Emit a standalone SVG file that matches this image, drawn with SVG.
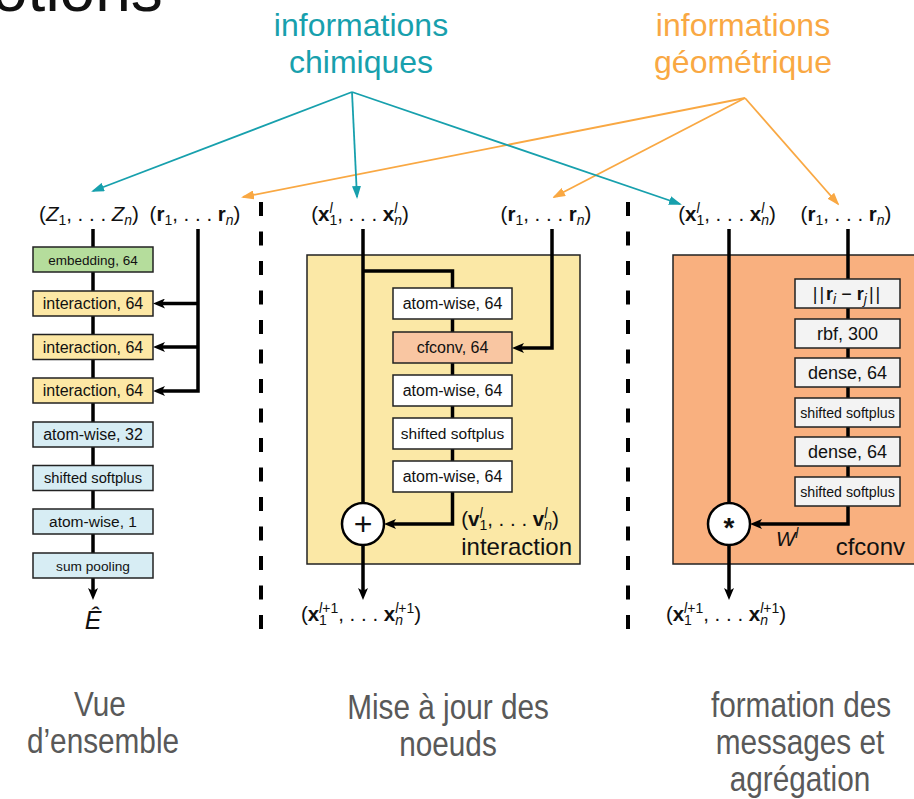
<svg xmlns="http://www.w3.org/2000/svg" width="914" height="799" viewBox="0 0 914 799">
  <style>
    text { font-family: "Liberation Sans", Arial, sans-serif; fill: #111; }
    .m { font-size: 20.5px; }
    .s { font-size: 14px; }
    .i { font-style: italic; }
    .b { font-weight: bold; }
    .box { stroke: #222; stroke-width: 1.5; }
    .bl { font-size: 16px; text-anchor: middle; }
    .wire { fill: none; stroke: #000; stroke-width: 3.5; }
    .teal { fill: none; stroke: #17a0ad; stroke-width: 1.8; }
    .orng { fill: none; stroke: #f9a843; stroke-width: 1.8; }
    .sep { stroke: #000; stroke-width: 4; stroke-dasharray: 14 15.5; }
    .cap { font-size: 35px; text-anchor: middle; fill: #595959; }
  </style>
  <defs>
    <marker id="ah" viewBox="0 0 12 10" refX="6" refY="5" markerWidth="12" markerHeight="10" markerUnits="userSpaceOnUse" orient="auto">
      <path d="M0,0 L12,5 L0,10 L3,5 z" fill="#000"/>
    </marker>
    <marker id="at" viewBox="0 0 13 9" refX="11" refY="4.5" markerWidth="13" markerHeight="9" markerUnits="userSpaceOnUse" orient="auto">
      <path d="M0,0 L13,4.5 L0,9 z" fill="#17a0ad"/>
    </marker>
    <marker id="ao" viewBox="0 0 13 9" refX="11" refY="4.5" markerWidth="13" markerHeight="9" markerUnits="userSpaceOnUse" orient="auto">
      <path d="M0,0 L13,4.5 L0,9 z" fill="#f9a843"/>
    </marker>
  </defs>

  <!-- heading, partly outside the top edge -->
  <text x="-8" y="11" font-size="64">otions</text>

  <!-- source labels -->
  <g id="chem-info">
    <text x="361" y="36" font-size="32" text-anchor="middle" style="fill:#17a0ad">informations</text>
    <text x="361" y="73" font-size="32" text-anchor="middle" style="fill:#17a0ad">chimiques</text>
  </g>
  <g id="geom-info">
    <text x="743" y="36" font-size="32" text-anchor="middle" style="fill:#f9a843">informations</text>
    <text x="743" y="73" font-size="32" text-anchor="middle" style="fill:#f9a843">géométrique</text>
  </g>

  <!-- column separators -->
  <line class="sep" x1="261" y1="202" x2="261" y2="632"/>
  <line class="sep" x1="628" y1="202" x2="628" y2="632"/>

  <!-- containers -->
  <g id="interaction-block">
    <rect x="307" y="255" width="273" height="309" fill="#fbe8a6" stroke="#222" stroke-width="1.5"/>
  </g>
  <g id="cfconv-block">
    <rect x="673" y="255" width="260" height="309" fill="#f9b07f" stroke="#222" stroke-width="1.5"/>
  </g>

  <!-- connectors -->
  <g id="connectors">
    <!-- overview column -->
    <path class="wire" d="M93,229 V594" marker-end="url(#ah)"/>
    <path class="wire" d="M198,229 V391 H159" marker-end="url(#ah)"/>
    <path class="wire" d="M198,303.5 H159" marker-end="url(#ah)"/>
    <path class="wire" d="M198,347 H159" marker-end="url(#ah)"/>
    <!-- interaction column -->
    <path class="wire" d="M363,229 V503"/>
    <path class="wire" d="M363,271 H452.5 V288"/>
    <path class="wire" d="M452.5,319 V524 H390" marker-end="url(#ah)"/>
    <path class="wire" d="M552,229 V348 H518" marker-end="url(#ah)"/>
    <path class="wire" d="M363,545 V594" marker-end="url(#ah)"/>
    <!-- cfconv column -->
    <path class="wire" d="M729,229 V503"/>
    <path class="wire" d="M848,229 V524 H756" marker-end="url(#ah)"/>
    <path class="wire" d="M729,545 V594" marker-end="url(#ah)"/>
    <!-- information flow -->
    <path class="orng" d="M745,98 L243,197" marker-end="url(#ao)"/>
    <path class="orng" d="M745,98 L554,197" marker-end="url(#ao)"/>
    <path class="orng" d="M745,98 L838,204" marker-end="url(#ao)"/>
    <path class="teal" d="M352,92 L93,191" marker-end="url(#at)"/>
    <path class="teal" d="M352,92 L357,197" marker-end="url(#at)"/>
    <path class="teal" d="M352,92 L680,204" marker-end="url(#at)"/>
  </g>

  <!-- overview column -->
  <g id="in-Z"><text class="m" x="89" y="221" text-anchor="middle">(<tspan class="i">Z</tspan><tspan class="s" dy="4">1</tspan><tspan dy="-4">, . . . </tspan><tspan class="i">Z</tspan><tspan class="s i" dy="4">n</tspan><tspan dy="-4">)</tspan></text></g>
  <g id="in-r1"><text class="m" x="195" y="221" text-anchor="middle">(<tspan class="b">r</tspan><tspan class="s" dy="4">1</tspan><tspan dy="-4">, . . . </tspan><tspan class="b">r</tspan><tspan class="s i" dy="4">n</tspan><tspan dy="-4">)</tspan></text></g>
  <g id="embedding"><rect class="box" x="33" y="247" width="120" height="25" fill="#b5dd9c"/><text class="bl" x="93" y="264.5" style="font-size:13.5px">embedding, 64</text></g>
  <g id="interaction-1"><rect class="box" x="33" y="291" width="120" height="25" fill="#fde8a5"/><text class="bl" x="93" y="309">interaction, 64</text></g>
  <g id="interaction-2"><rect class="box" x="33" y="334.5" width="120" height="25" fill="#fde8a5"/><text class="bl" x="93" y="352.5">interaction, 64</text></g>
  <g id="interaction-3"><rect class="box" x="33" y="378" width="120" height="25" fill="#fde8a5"/><text class="bl" x="93" y="396">interaction, 64</text></g>
  <g id="atomwise-32"><rect class="box" x="33" y="422" width="120" height="25" fill="#d7edf4"/><text class="bl" x="93" y="440">atom-wise, 32</text></g>
  <g id="ssp-1"><rect class="box" x="33" y="465.5" width="120" height="25" fill="#d7edf4"/><text class="bl" x="93" y="483" style="font-size:14.7px">shifted softplus</text></g>
  <g id="atomwise-1"><rect class="box" x="33" y="509" width="120" height="25" fill="#d7edf4"/><text class="bl" x="93" y="527" style="font-size:15.5px">atom-wise, 1</text></g>
  <g id="sum-pooling"><rect class="box" x="33" y="553" width="120" height="25" fill="#d7edf4"/><text class="bl" x="93" y="570.5" style="font-size:13.7px">sum pooling</text></g>
  <g id="out-E"><text x="93" y="629" font-size="25" font-style="italic" text-anchor="middle">Ê</text></g>

  <!-- interaction column -->
  <g id="in-x-mid"><text class="m" x="360" y="221" text-anchor="middle">(<tspan class="b">x</tspan><tspan class="s i" dy="-8">l</tspan><tspan class="s" dx="-3.1" dy="12">1</tspan><tspan dy="-4">, . . . </tspan><tspan class="b">x</tspan><tspan class="s i" dy="-8">l</tspan><tspan class="s i" dx="-3.1" dy="12">n</tspan><tspan dy="-4">)</tspan></text></g>
  <g id="in-r-mid"><text class="m" x="546" y="221" text-anchor="middle">(<tspan class="b">r</tspan><tspan class="s" dy="4">1</tspan><tspan dy="-4">, . . . </tspan><tspan class="b">r</tspan><tspan class="s i" dy="4">n</tspan><tspan dy="-4">)</tspan></text></g>
  <g id="aw-a"><rect class="box" x="393" y="288" width="119" height="31" fill="#fff"/><text class="bl" x="452.5" y="309">atom-wise, 64</text></g>
  <g id="cfconv-64"><rect class="box" x="393" y="332" width="119" height="31" fill="#f9c6a2"/><text class="bl" x="452.5" y="353">cfconv, 64</text></g>
  <g id="aw-b"><rect class="box" x="393" y="375" width="119" height="31" fill="#fff"/><text class="bl" x="452.5" y="396">atom-wise, 64</text></g>
  <g id="ssp-2"><rect class="box" x="393" y="418" width="119" height="31" fill="#fff"/><text class="bl" x="452.5" y="439" style="font-size:15.5px">shifted softplus</text></g>
  <g id="aw-c"><rect class="box" x="393" y="461" width="119" height="31" fill="#fff"/><text class="bl" x="452.5" y="482">atom-wise, 64</text></g>
  <g id="sum-node"><circle cx="363" cy="524" r="21" fill="#fff" stroke="#000" stroke-width="2.5"/><text x="363" y="535" font-size="32" text-anchor="middle">+</text></g>
  <g id="v-label"><text class="m" x="510" y="526" text-anchor="middle">(<tspan class="b">v</tspan><tspan class="s i" dy="-8">l</tspan><tspan class="s" dx="-3.1" dy="12">1</tspan><tspan dy="-4">, . . . </tspan><tspan class="b">v</tspan><tspan class="s i" dy="-8">l</tspan><tspan class="s i" dx="-3.1" dy="12">n</tspan><tspan dy="-4">)</tspan></text></g>
  <g id="interaction-title"><text x="572" y="555" font-size="24" text-anchor="end">interaction</text></g>
  <g id="out-x-mid"><text class="m" x="361" y="621" text-anchor="middle">(<tspan class="b">x</tspan><tspan class="s" dy="4">1</tspan><tspan class="s" dx="-7.8" dy="-12"><tspan class="i">l</tspan>+1</tspan><tspan dy="8">, . . . </tspan><tspan class="b">x</tspan><tspan class="s i" dy="4">n</tspan><tspan class="s" dx="-7.8" dy="-12"><tspan class="i">l</tspan>+1</tspan><tspan dy="8">)</tspan></text></g>

  <!-- cfconv column -->
  <g id="in-x-right"><text class="m" x="727" y="221" text-anchor="middle">(<tspan class="b">x</tspan><tspan class="s i" dy="-8">l</tspan><tspan class="s" dx="-3.1" dy="12">1</tspan><tspan dy="-4">, . . . </tspan><tspan class="b">x</tspan><tspan class="s i" dy="-8">l</tspan><tspan class="s i" dx="-3.1" dy="12">n</tspan><tspan dy="-4">)</tspan></text></g>
  <g id="in-r-right"><text class="m" x="846" y="221" text-anchor="middle">(<tspan class="b">r</tspan><tspan class="s" dy="4">1</tspan><tspan dy="-4">, . . . </tspan><tspan class="b">r</tspan><tspan class="s i" dy="4">n</tspan><tspan dy="-4">)</tspan></text></g>
  <g id="dist"><rect class="box" x="795" y="279" width="105" height="29" fill="#f3f3f3"/><text class="bl" x="847.5" y="300" style="font-size:18px"><tspan letter-spacing="2">||</tspan><tspan class="b">r</tspan><tspan class="s i" dy="4">i</tspan><tspan dy="-4"> − </tspan><tspan class="b">r</tspan><tspan class="s i" dy="4">j</tspan><tspan dy="-4" dx="2" letter-spacing="2">||</tspan></text></g>
  <g id="rbf"><rect class="box" x="795" y="319" width="105" height="29" fill="#f3f3f3"/><text class="bl" x="847.5" y="340" style="font-size:18px">rbf, 300</text></g>
  <g id="dense-a"><rect class="box" x="795" y="358" width="105" height="29" fill="#f3f3f3"/><text class="bl" x="847.5" y="379" style="font-size:18px">dense, 64</text></g>
  <g id="ssp-3"><rect class="box" x="795" y="398" width="105" height="29" fill="#f3f3f3"/><text class="bl" x="847.5" y="417.5" style="font-size:14.2px">shifted softplus</text></g>
  <g id="dense-b"><rect class="box" x="795" y="437" width="105" height="29" fill="#f3f3f3"/><text class="bl" x="847.5" y="458" style="font-size:18px">dense, 64</text></g>
  <g id="ssp-4"><rect class="box" x="795" y="477" width="105" height="29" fill="#f3f3f3"/><text class="bl" x="847.5" y="496.5" style="font-size:14.2px">shifted softplus</text></g>
  <g id="conv-node"><circle cx="729" cy="524" r="21" fill="#fff" stroke="#000" stroke-width="2.5"/><text x="729" y="537" font-size="28" font-weight="bold" text-anchor="middle">*</text></g>
  <g id="w-label"><text class="m" x="776" y="546"><tspan class="i">W</tspan><tspan class="s i" dy="-8">l</tspan></text></g>
  <g id="cfconv-title"><text x="905" y="555" font-size="24" text-anchor="end">cfconv</text></g>
  <g id="out-x-right"><text class="m" x="726" y="621" text-anchor="middle">(<tspan class="b">x</tspan><tspan class="s" dy="4">1</tspan><tspan class="s" dx="-7.8" dy="-12"><tspan class="i">l</tspan>+1</tspan><tspan dy="8">, . . . </tspan><tspan class="b">x</tspan><tspan class="s i" dy="4">n</tspan><tspan class="s" dx="-7.8" dy="-12"><tspan class="i">l</tspan>+1</tspan><tspan dy="8">)</tspan></text></g>

  <!-- captions (narrowed sans) -->
  <g id="cap-overview">
    <text class="cap" transform="translate(100,716) scale(0.85,1)">Vue</text>
    <text class="cap" transform="translate(103,753) scale(0.85,1)">d’ensemble</text>
  </g>
  <g id="cap-update">
    <text class="cap" transform="translate(448,719) scale(0.85,1)">Mise à jour des</text>
    <text class="cap" transform="translate(448,756) scale(0.85,1)">noeuds</text>
  </g>
  <g id="cap-messages">
    <text class="cap" transform="translate(801,717) scale(0.85,1)">formation des</text>
    <text class="cap" transform="translate(800,754) scale(0.85,1)">messages et</text>
    <text class="cap" transform="translate(800,791) scale(0.85,1)">agrégation</text>
  </g>
</svg>
